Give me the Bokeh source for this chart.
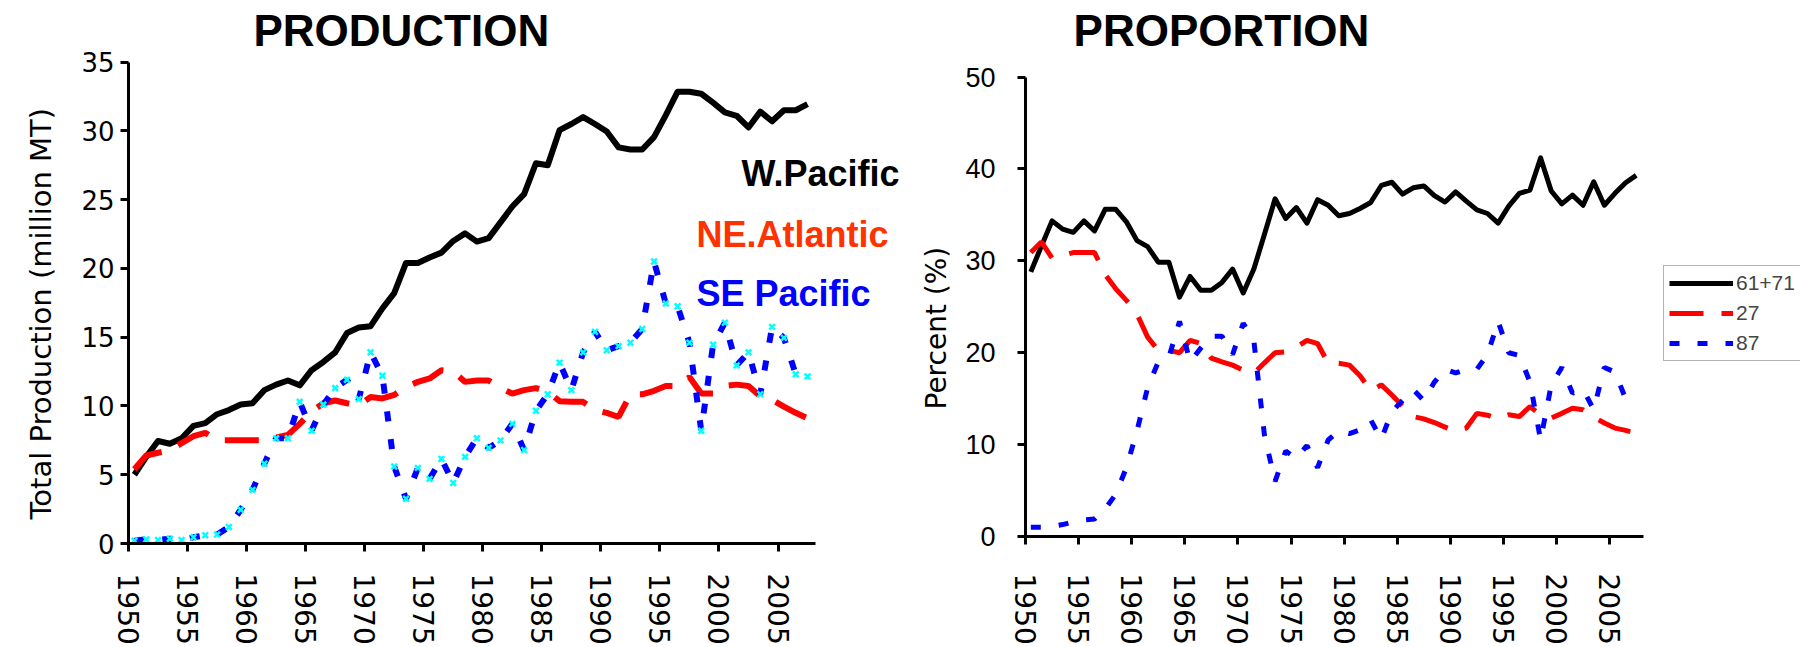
from bokeh.plotting import figure
from bokeh.layouts import row
from bokeh.models import Range1d, FixedTicker, Label, Legend, LegendItem, ColumnDataSource, Title
from bokeh.transform import dodge
from bokeh.embed import file_html
from bokeh.resources import INLINE

# ---------------- data ----------------
years = list(range(1950, 2008))

# Total production (million MT)
wpac_prod = [5.0, 6.3, 7.45, 7.25, 7.65, 8.55, 8.75, 9.4, 9.7, 10.1,
             10.2, 11.15, 11.55, 11.85, 11.5, 12.6, 13.2, 13.9, 15.3, 15.7,
             15.8, 17.1, 18.2, 20.4, 20.4, 20.8, 21.15, 22.0, 22.55, 21.95,
             22.2, 23.35, 24.5, 25.4, 27.65, 27.5, 30.05, 30.5, 31.0, 30.5,
             29.95, 28.8, 28.65, 28.65, 29.55, 31.15, 32.85, 32.85, 32.7, 32.05,
             31.35, 31.1, 30.25, 31.4, 30.7, 31.5, 31.5, 31.95]
neatl_prod = [5.4, 6.4, 6.6, 6.75, 7.3, 7.8, 8.05, 7.5, 7.5, 7.5,
              7.5, 7.5, 7.7, 7.9, 8.7, 9.6, 10.2, 10.4, 10.2, 10.05,
              10.65, 10.55, 10.8, 11.4, 11.75, 12.0, 12.6, 12.5, 11.75, 11.85,
              11.85, 11.3, 10.9, 11.15, 11.3, 11.05, 10.35, 10.3, 10.3, 9.7,
              9.5, 9.2, 10.85, 10.85, 11.1, 11.45, 11.45, 12.1, 10.9, 10.9,
              11.45, 11.55, 11.45, 10.7, 10.45, 9.95, 9.5, 9.1]
sepac_prod = [0.2, 0.3, 0.25, 0.35, 0.25, 0.45, 0.6, 0.65, 1.2, 2.45,
              3.9, 5.8, 7.65, 7.65, 10.3, 8.2, 10.1, 11.3, 11.9, 10.5,
              13.9, 12.2, 5.6, 3.25, 5.5, 4.7, 6.15, 4.4, 6.3, 7.65,
              6.95, 7.5, 8.7, 6.8, 9.65, 10.85, 13.15, 11.15, 13.9, 15.4,
              14.05, 14.35, 14.6, 15.6, 20.5, 17.45, 17.25, 14.6, 8.2, 14.45,
              16.05, 12.95, 13.9, 10.85, 15.75, 14.95, 12.3, 12.15]

# Proportion (%)
pct_61_71 = [28.8, 31.6, 34.35, 33.45, 33.1, 34.35, 33.25, 35.6, 35.6, 34.25,
             32.2, 31.55, 29.85, 29.85, 26.05, 28.3, 26.8, 26.8, 27.65, 29.1,
             26.5, 29.1, 32.9, 36.75, 34.6, 35.8, 34.1, 36.65, 36.05, 34.9,
             35.15, 35.7, 36.35, 38.2, 38.55, 37.25, 37.95, 38.15, 37.1, 36.4,
             37.5, 36.5, 35.55, 35.15, 34.1, 35.95, 37.35, 37.7, 41.2, 37.6,
             36.2, 37.15, 36.05, 38.6, 36.05, 37.35, 38.5, 39.3]
pct_27 = [30.9, 32.05, 30.3, 30.6, 30.9, 30.9, 30.9, 28.5, 26.95, 25.7,
          24.2, 21.7, 20.25, 20.25, 20.0, 21.35, 21.0, 19.4, 19.0, 18.65,
          18.1, 17.75, 18.9, 20.0, 20.1, 20.6, 21.35, 21.0, 18.85, 18.85,
          18.65, 17.5, 15.85, 16.5, 15.4, 14.2, 13.05, 12.8, 12.4, 11.9,
          11.45, 11.8, 13.4, 13.2, 12.8, 13.25, 13.05, 14.15, 13.2, 12.9,
          13.4, 13.95, 13.8, 13.0, 12.35, 11.8, 11.55, 11.25]
pct_87 = [1.0, 1.0, 1.1, 1.3, 1.6, 1.8, 1.9, 3.0, 4.6, 7.5,
          11.5, 16.2, 19.0, 19.5, 23.4, 19.0, 20.5, 21.8, 21.8, 19.8,
          23.2, 21.3, 11.0, 6.0, 9.3, 8.5, 9.9, 7.5, 10.5, 11.5,
          11.2, 11.6, 12.7, 10.6, 13.6, 14.8, 16.0, 14.8, 16.8, 18.2,
          17.8, 18.2, 18.2, 19.8, 23.4, 20.0, 19.7, 16.8, 10.5, 16.5,
          18.4, 15.6, 16.0, 13.8, 18.4, 17.9, 15.0, 14.9]

year_ticks = list(range(1950, 2006, 5))
prod_ticks = list(range(0, 36, 5))
pct_ticks = list(range(0, 51, 10))

prod_src = ColumnDataSource(dict(year=years, wp=wpac_prod, ne=neatl_prod, se=sepac_prod))
pct_src = ColumnDataSource(dict(year=years, wp=pct_61_71, ne=pct_27, se=pct_87))

# points sit in the middle of each year's slot (Excel-style category axis)
xpos = dodge("year", 0.5)
X_AXIS_END = 2008.2

BLACK = "#000000"
RED = "#FF0000"
BLUE = "#0000FF"
CYAN = "#00FFFF"


def style_axes(p, y_bounds, ytick_font, ytick_size, xlab_standoff, tick_standoff):
    for ax in (p.xaxis[0], p.yaxis[0]):
        ax.axis_line_width = 3
        ax.axis_line_color = "black"
        ax.major_tick_line_width = 3
        ax.major_tick_line_color = "black"
        ax.major_tick_out = 8
        ax.major_tick_in = 0
        ax.minor_tick_out = 0
        ax.minor_tick_in = 0
        ax.major_label_text_color = "black"
    p.xaxis.bounds = (1950, X_AXIS_END)
    p.yaxis.bounds = y_bounds
    p.xaxis.ticker = FixedTicker(ticks=year_ticks)
    p.xaxis.major_label_orientation = "vertical"
    p.xaxis.major_label_text_font = "DejaVu Sans"
    p.xaxis.major_label_text_font_size = "28px"
    p.xaxis.major_label_standoff = xlab_standoff
    p.yaxis.major_label_text_font = ytick_font
    p.yaxis.major_label_text_font_size = ytick_size
    p.yaxis.major_label_standoff = tick_standoff
    p.xgrid.grid_line_color = None
    p.ygrid.grid_line_color = None
    p.outline_line_color = None
    p.background_fill_color = "white"
    p.border_fill_color = "white"
    try:
        p.frame_align = False
    except Exception:
        pass


def heading(text, x, y):
    return Label(x=x, y=y, text=text, text_color=BLACK, text_font="Liberation Sans",
                 text_font_size="44px", text_font_style="bold",
                 text_align="center", text_baseline="alphabetic")


def y_title(text, size, offset, standoff):
    return Title(text=text, text_font="DejaVu Sans", text_font_size=size, text_font_style="normal",
                 text_color=BLACK, align="left", offset=offset, standoff=standoff)


# ---------------- left: PRODUCTION ----------------
p1 = figure(width=906, height=647, x_range=Range1d(1950, 2015.88), y_range=Range1d(0, 39.48),
            output_backend="svg", toolbar_location=None,
            min_border_left=128, min_border_right=0, min_border_top=0, min_border_bottom=101)
style_axes(p1, (0, 35), "DejaVu Sans", "26px", 22, 6)
p1.yaxis.ticker = FixedTicker(ticks=prod_ticks)
p1.add_layout(y_title("Total Production (million MT)", "29px", 24, 42), "left")

p1.line(x=xpos, y="wp", source=prod_src, line_color=BLACK, line_width=6, line_join="round")
p1.line(x=xpos, y="ne", source=prod_src, line_color=RED, line_width=6, line_dash="34 18")
p1.line(x=xpos, y="se", source=prod_src, line_color=BLUE, line_width=6, line_dash="10 18")
p1.scatter(x=xpos, y="se", source=prod_src, marker="x", size=8, line_color=CYAN, line_width=2.5)

p1.add_layout(heading("PRODUCTION", 1973.1, 37.31))
p1.add_layout(Label(x=2001.9, y=26.9, text="W.Pacific", text_color=BLACK, text_font="Liberation Sans",
                    text_font_size="36px", text_font_style="bold", text_baseline="alphabetic"))
p1.add_layout(Label(x=1998.1, y=22.5, text="NE.Atlantic", text_color="#FF3300", text_font="Liberation Sans",
                    text_font_size="36px", text_font_style="bold", text_baseline="alphabetic"))
p1.add_layout(Label(x=1998.1, y=18.2, text="SE Pacific", text_color=BLUE, text_font="Liberation Sans",
                    text_font_size="36px", text_font_style="bold", text_baseline="alphabetic"))

# ---------------- right: PROPORTION ----------------
p2 = figure(width=894, height=647, x_range=Range1d(1950, 2022.97), y_range=Range1d(0, 58.33),
            output_backend="svg", toolbar_location=None,
            min_border_left=119, min_border_right=0, min_border_top=0, min_border_bottom=108)
style_axes(p2, (0, 50), "Liberation Sans", "27px", 29, 22)
p2.yaxis.ticker = FixedTicker(ticks=pct_ticks)
p2.add_layout(y_title("Percent (%)", "28px", 127, 19), "left")

r_wp = p2.line(x=xpos, y="wp", source=pct_src, line_color=BLACK, line_width=5, line_join="round")
r_ne = p2.line(x=xpos, y="ne", source=pct_src, line_color=RED, line_width=5, line_dash="34 18")
r_se = p2.line(x=xpos, y="se", source=pct_src, line_color=BLUE, line_width=5, line_dash="10 18")

p2.add_layout(heading("PROPORTION", 1968.45, 55.09))

legend = Legend(items=[LegendItem(label="61+71", renderers=[r_wp]),
                       LegendItem(label="27", renderers=[r_ne]),
                       LegendItem(label="87", renderers=[r_se])],
                location=(638, 175), padding=5, spacing=6,
                glyph_width=64, glyph_height=24, label_height=24, label_standoff=3,
                label_text_font="Liberation Sans", label_text_font_size="21px",
                border_line_color="#666666", border_line_width=1.5,
                background_fill_color="white", background_fill_alpha=1.0)
p2.add_layout(legend)

layout = row(p1, p2)
open("out.html", "w").write(file_html(layout, INLINE))
